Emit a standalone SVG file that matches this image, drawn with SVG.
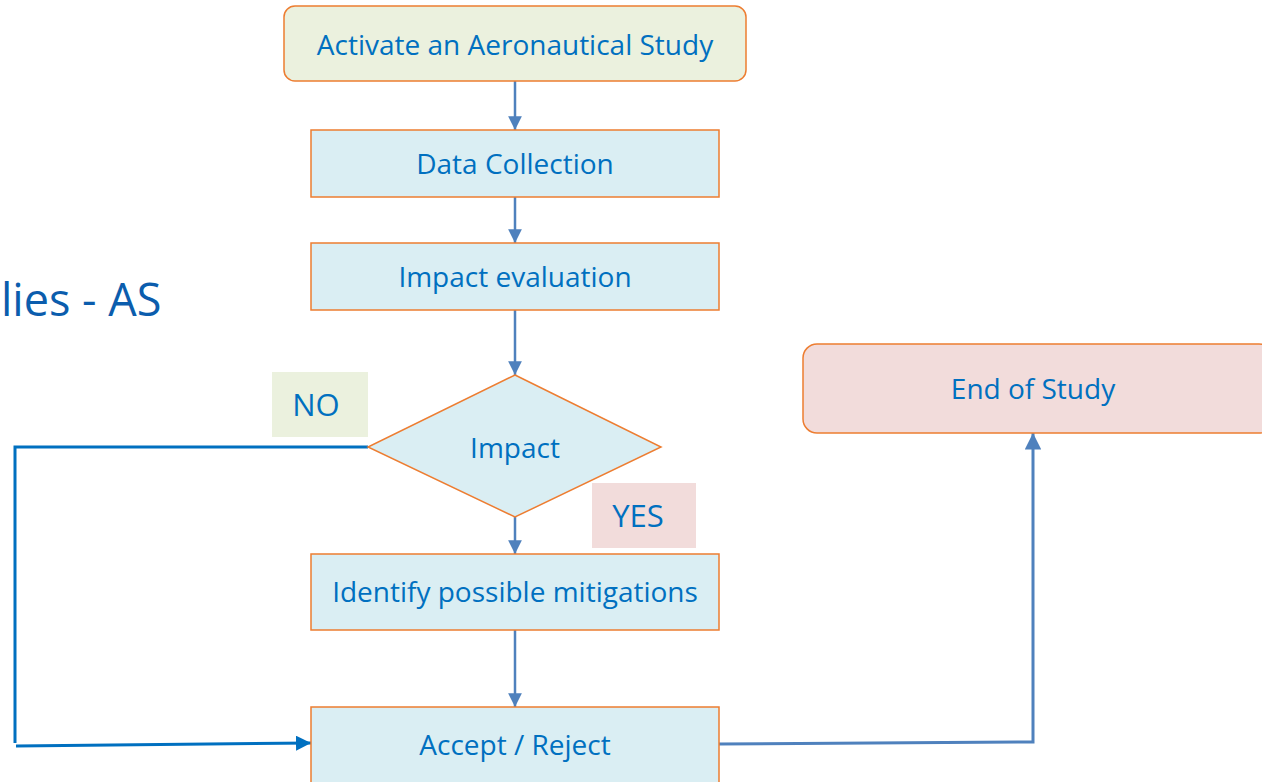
<svg xmlns="http://www.w3.org/2000/svg" width="1262" height="782" viewBox="0 0 1262 782">
<style>
text{font-family:"Open Sans","Noto Sans","Liberation Sans",sans-serif;fill:#0070C0;text-anchor:middle;dominant-baseline:central}
.box{fill:#DAEEF3;stroke:#ED7D31;stroke-width:1.5}
.lbl{font-size:28px}
.v{stroke:#4F81BD;stroke-width:2.5;fill:none}
</style>
<defs>
<marker id="ah" viewBox="0 0 10 10" refX="10" refY="5" markerWidth="5.5" markerHeight="5.5" markerUnits="strokeWidth" orient="auto"><path d="M0,0 L10,5 L0,10 z" fill="#4F81BD"/></marker>
<marker id="ah2" viewBox="0 0 10 10" refX="10" refY="5" markerWidth="5" markerHeight="5" markerUnits="strokeWidth" orient="auto"><path d="M0,0 L10,5 L0,10 z" fill="#0070C0"/></marker>
</defs>
<rect width="1262" height="782" fill="#fff"/>
<text x="1" y="298" style="font-size:45px;text-anchor:start;fill:#0B5DAD">lies - AS</text>
<g id="connectors">
<line class="v" x1="515" y1="81" x2="515" y2="130" marker-end="url(#ah)"/>
<line class="v" x1="515" y1="197" x2="515" y2="243" marker-end="url(#ah)"/>
<line class="v" x1="515" y1="310" x2="515" y2="375" marker-end="url(#ah)"/>
<line class="v" x1="515" y1="517" x2="515" y2="554" marker-end="url(#ah)"/>
<line class="v" x1="515" y1="630" x2="515" y2="707" marker-end="url(#ah)"/>
<polyline points="368,447 15,447 15,743" fill="none" stroke="#0070C0" stroke-width="3"/>
<line x1="16" y1="746" x2="311" y2="743" stroke="#0070C0" stroke-width="3" marker-end="url(#ah2)"/>
<polyline class="v" style="stroke-width:3" points="719,744 1033,742 1033,433" marker-end="url(#ah)"/>
</g>
<g id="n-activate"><rect x="284" y="6" width="462" height="75" rx="11" fill="#EBF1DE" stroke="#ED7D31" stroke-width="1.5"/><text class="lbl" x="515" y="44">Activate an Aeronautical Study</text></g>
<g id="n-data"><rect class="box" x="311" y="130" width="408" height="67"/><text class="lbl" x="515" y="163">Data Collection</text></g>
<g id="n-impact-eval"><rect class="box" x="311" y="243" width="408" height="67"/><text class="lbl" x="515" y="276">Impact evaluation</text></g>
<g id="n-impact"><polygon class="box" points="515,375 661,447 515,517 368,447"/><text class="lbl" x="515" y="447">Impact</text></g>
<g id="n-mitig"><rect class="box" x="311" y="554" width="408" height="76"/><text class="lbl" x="515" y="591">Identify possible mitigations</text></g>
<g id="n-accept"><rect class="box" x="311" y="707" width="408" height="80"/><text class="lbl" x="515" y="744">Accept / Reject</text></g>
<g id="n-end"><rect x="803" y="344" width="470" height="89" rx="14" fill="#F2DCDB" stroke="#ED7D31" stroke-width="1.5"/><text class="lbl" x="1033" y="388">End of Study</text></g>
<g id="l-no"><rect x="272" y="372" width="96" height="65" fill="#EBF1DE"/><text x="316" y="404" style="font-size:31px">NO</text></g>
<g id="l-yes"><rect x="592" y="483" width="104" height="65" fill="#F2DCDB"/><text x="638" y="515" style="font-size:31px">YES</text></g>
</svg>
